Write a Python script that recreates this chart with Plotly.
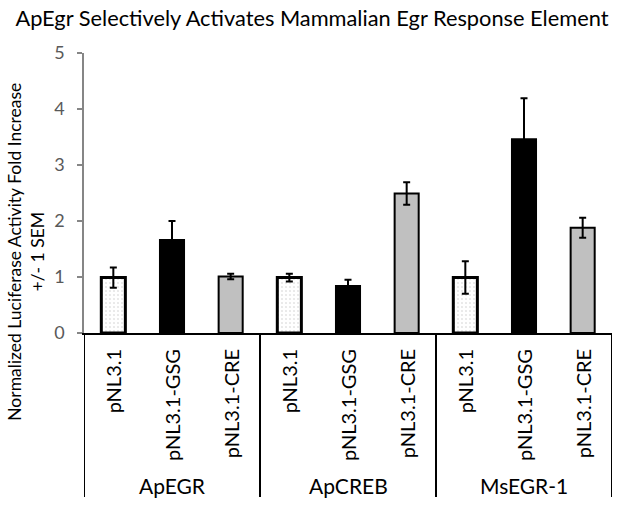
import plotly.graph_objects as go

groups = ["ApEGR", "ApCREB", "MsEGR-1"]
constructs = ["pNL3.1", "pNL3.1-GSG", "pNL3.1-CRE"]

mean_pnl = [0.99, 0.99, 0.99]
mean_gsg = [1.66, 0.84, 3.46]
mean_cre = [1.01, 2.49, 1.88]

sem_pnl = [0.18, 0.07, 0.29]
sem_gsg = [0.34, 0.11, 0.73]
sem_cre = [0.05, 0.20, 0.18]

y_ticks = [0, 1, 2, 3, 4, 5]

FONT = "Lato"
BW = 0.41

fig = go.Figure()

series = [
    (mean_pnl, sem_pnl, dict(color="white", line=dict(color="black", width=3),
                             pattern=dict(shape=".", fgcolor="#9a9a9a", bgcolor="white", size=4, solidity=0.12))),
    (mean_gsg, sem_gsg, dict(color="black", line=dict(color="black", width=2))),
    (mean_cre, sem_cre, dict(color="#c0c0c0", line=dict(color="black", width=2))),
]

for c, (vals, errs, marker) in enumerate(series):
    xs = [g * 3 + c for g in range(len(groups))]
    fig.add_trace(go.Bar(
        x=xs, y=vals, width=[BW] * len(xs), marker=marker,
        error_y=dict(type="data", array=errs, visible=True, color="black", thickness=2, width=3.5),
        name=constructs[c], showlegend=False, hoverinfo="skip",
    ))

# category labels
for g in range(len(groups)):
    for c in range(len(constructs)):
        fig.add_annotation(x=g * 3 + c, y=-0.05, xref="x", yref="paper",
                           text=constructs[c], textangle=-90, showarrow=False,
                           xanchor="center", yanchor="top",
                           font=dict(family=FONT, size=20, color="black"))
    fig.add_annotation(x=g * 3 + 1, y=-0.543, xref="x", yref="paper",
                       text=groups[g], showarrow=False, xanchor="center", yanchor="middle",
                       font=dict(family=FONT, size=21, color="black"))

# group divider lines
for xd in [-0.5, 2.5, 5.5, 8.5]:
    fig.add_shape(type="line", x0=xd, x1=xd, y0=0, y1=-0.586, xref="x", yref="paper",
                  line=dict(color="black", width=2))

fig.add_annotation(x=-0.110, y=0.29, xref="paper", yref="paper",
                   text="Normalized Luciferase Activity Fold Increase<br>+/- 1 SEM",
                   textangle=-90, showarrow=False, xanchor="center", yanchor="middle",
                   font=dict(family=FONT, size=17.5, color="black"))

fig.update_layout(
    width=624, height=509,
    margin=dict(l=84, r=12, t=53, b=176),
    paper_bgcolor="white", plot_bgcolor="white",
    barmode="overlay",
    title=dict(text="ApEgr Selectively Activates Mammalian Egr Response Element",
               x=0.5, xanchor="center", y=1 - 18 / 509, yanchor="middle",
               font=dict(family=FONT, size=21.8, color="black")),
    xaxis=dict(range=[-0.5, 8.5], showticklabels=False, ticks="", showgrid=False,
               zeroline=False, showline=True, linecolor="black", linewidth=2, fixedrange=True),
    yaxis=dict(range=[0, 5], tickvals=y_ticks, showgrid=False, zeroline=False,
               showline=True, linecolor="#868686", linewidth=1.5, ticks="outside",
               ticklen=5, tickcolor="#868686", tickwidth=1.5,
               tickfont=dict(family=FONT, size=18, color="#595959"),
               ticklabelstandoff=9, fixedrange=True),
)

fig.write_html("out.html", config={"displayModeBar": False},
               post_script="document.body.style.margin='0';document.body.style.padding='0';")
